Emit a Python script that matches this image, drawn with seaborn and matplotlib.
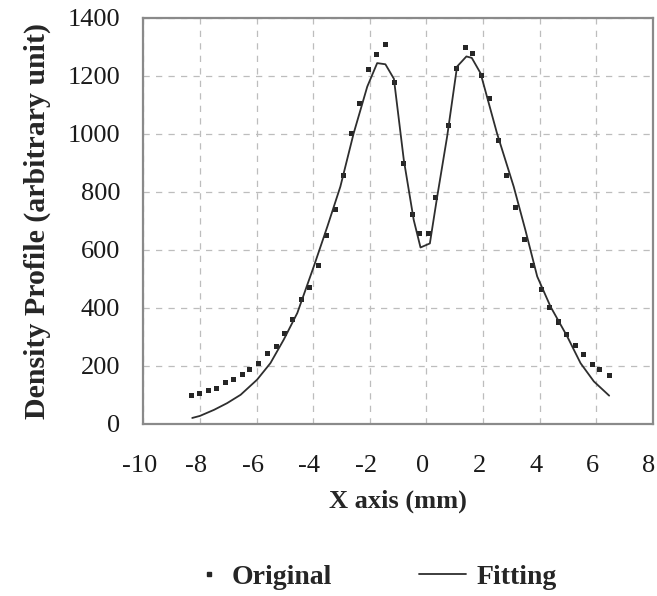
import numpy as np
import pandas as pd
import matplotlib
matplotlib.use("Agg")
import matplotlib.pyplot as plt
import matplotlib.transforms as mtransforms
from matplotlib.lines import Line2D
import seaborn as sns

# measured density profile (dots)
orig_x = [-8.31, -8.00, -7.68, -7.41, -7.09, -6.82, -6.51, -6.24, -5.92, -5.62,
          -5.31, -5.01, -4.72, -4.40, -4.12, -3.80, -3.54, -3.22, -2.94, -2.65,
          -2.35, -2.04, -1.76, -1.44, -1.14, -0.82, -0.50, -0.24, 0.08, 0.32,
          0.79, 1.06, 1.38, 1.63, 1.96, 2.23, 2.55, 2.82, 3.16, 3.46,
          3.75, 4.05, 4.35, 4.67, 4.93, 5.26, 5.53, 5.85, 6.12, 6.45]
orig_y = [97, 103, 115, 122, 142, 154, 171, 187, 209, 241,
          267, 313, 361, 430, 470, 545, 649, 738, 855, 1002,
          1104, 1223, 1273, 1307, 1178, 897, 721, 655, 655, 782,
          1030, 1227, 1299, 1276, 1201, 1122, 977, 855, 747, 634,
          545, 462, 401, 351, 308, 271, 240, 205, 187, 166]

# fitted curve (solid line)
fit_x = [-8.27, -8.00, -7.50, -7.04, -6.56, -5.98, -5.51, -5.04, -4.56, -3.98,
         -3.50, -3.04, -2.57, -2.09, -1.74, -1.45, -1.15, -0.80, -0.45, -0.21,
         0.12, 0.38, 0.73, 1.08, 1.41, 1.60, 1.91, 2.49, 3.08, 3.49,
         3.91, 4.38, 4.97, 5.44, 5.91, 6.45]
fit_y = [20, 27, 48, 71, 100, 152, 209, 290, 382, 542,
         680, 818, 1002, 1163, 1244, 1240, 1190, 910, 703, 608,
         622, 784, 991, 1232, 1267, 1262, 1209, 1002, 818, 669,
         508, 404, 301, 209, 146, 97]

x_ticks = [-10, -8, -6, -4, -2, 0, 2, 4, 6, 8]
y_ticks = [0, 200, 400, 600, 800, 1000, 1200, 1400]

df_orig = pd.DataFrame({"x": orig_x, "y": orig_y})
df_fit = pd.DataFrame({"x": fit_x, "y": fit_y})

sns.set_style("white")
plt.rcParams["font.family"] = ["Liberation Serif", "DejaVu Serif"]

fig = plt.figure(figsize=(6.57, 5.96), dpi=100)
ax = fig.add_axes([0.218, 0.289, 0.776, 0.681])

dot_color = "#262626"
line_color = "#2e2e2e"

sns.lineplot(data=df_fit, x="x", y="y", ax=ax, color=line_color, linewidth=1.3,
             sort=False, legend=False)
sns.scatterplot(data=df_orig, x="x", y="y", ax=ax, color=dot_color, marker="s",
                s=13, edgecolor="none", legend=False)

ax.set_xlim(-10, 8)
ax.set_ylim(0, 1400)
ax.set_xticks(x_ticks)
ax.set_yticks(y_ticks)
ax.set_xticklabels([str(t) for t in x_ticks])
ax.grid(True, color="#bdbdbd", linestyle=(0, (5, 5)), linewidth=0.9)

for side in ["left", "right", "top", "bottom"]:
    ax.spines[side].set_visible(True)
    ax.spines[side].set_color("#8a8a8a")
    ax.spines[side].set_linewidth(1.6)

ax.tick_params(axis="both", direction="inout", length=9, width=0.9, color="#9a9a9a",
               labelsize=19, labelcolor="#1a1a1a")
ax.tick_params(axis="x", pad=18)
ax.tick_params(axis="y", pad=12)

# x tick labels sit a few pixels left of their ticks in the original
shift = mtransforms.ScaledTranslation(-4 / 100, 0, fig.dpi_scale_trans)
for lab in ax.get_xticklabels():
    lab.set_transform(lab.get_transform() + shift)

ax.set_xlabel("X axis (mm)", fontsize=19, fontweight="bold", labelpad=9)
ax.set_ylabel("Density Profile (arbitrary unit)", fontsize=21.5, fontweight="bold", labelpad=12)

dot_h = Line2D([], [], marker="s", linestyle="none", color=dot_color, markersize=3)
line_h = Line2D([], [], color=line_color, linewidth=1.3)
leg_font = {"weight": "bold", "size": 20}
fig.legend([dot_h], ["Original"], loc="center", bbox_to_anchor=(268 / 657, 0.032),
           frameon=False, prop=leg_font, handlelength=0.4, handletextpad=0.6)
fig.legend([line_h], ["Fitting"], loc="center", bbox_to_anchor=(488 / 657, 0.032),
           frameon=False, prop=leg_font, handlelength=1.7, handletextpad=0.4)

fig.savefig("out.png", dpi=100)
